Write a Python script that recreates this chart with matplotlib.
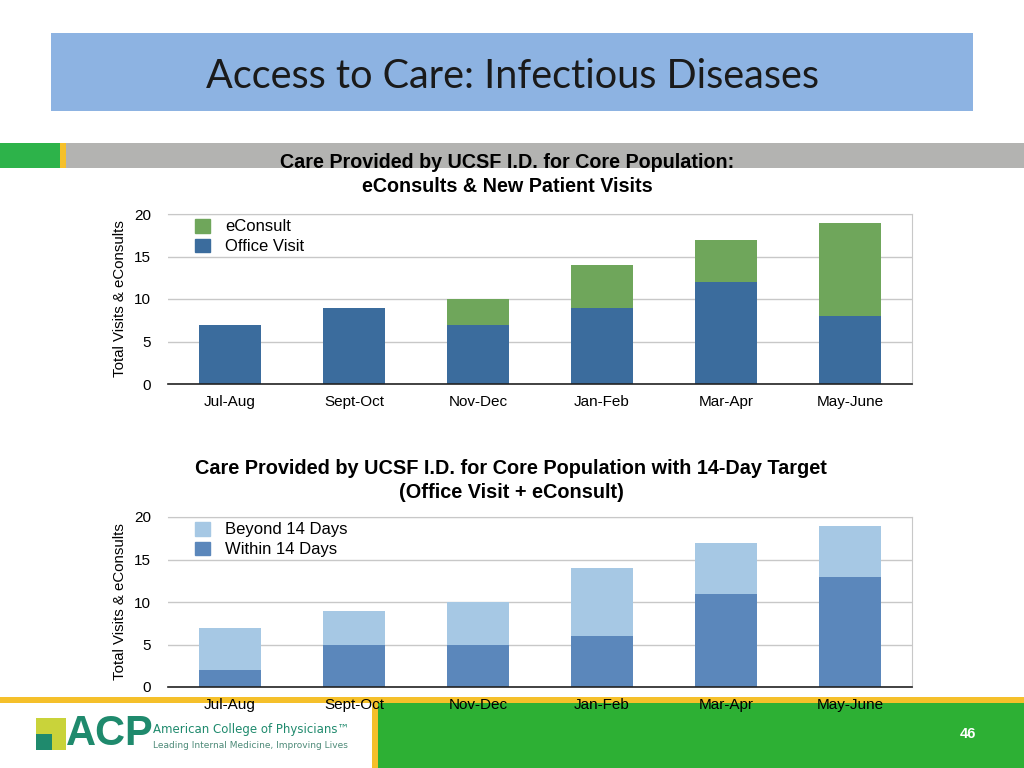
"""Access to Care: Infectious Diseases - stacked bar slide."""
import numpy as np
import matplotlib
matplotlib.use("Agg")
from matplotlib import pyplot as plt
from matplotlib.patches import Rectangle, Patch

# data
periods = ["Jul-Aug", "Sept-Oct", "Nov-Dec", "Jan-Feb", "Mar-Apr", "May-June"]
office_visit = [7, 9, 7, 9, 12, 8]
econsult = [0, 0, 3, 5, 5, 11]
within_14 = [2, 5, 5, 6, 11, 13]
beyond_14 = [5, 4, 5, 8, 6, 6]

W, H = 1024, 768


def px(x, y, w, h):
    """Pixel box (top-left origin) to figure fraction."""
    return [x / W, 1 - (y + h) / H, w / W, h / H]


def add_rect(fig, x, y, w, h, color, z=-5):
    r = Rectangle((x / W, 1 - (y + h) / H), w / W, h / H, transform=fig.transFigure,
                  facecolor=color, edgecolor="none", zorder=z)
    fig.patches.append(r)


def style_axes(ax):
    ax.set_xlim(-0.5, 5.5)
    ax.set_ylim(0, 20)
    ax.set_yticks([0, 5, 10, 15, 20])
    ax.set_xticks(np.arange(len(periods)))
    ax.set_xticklabels(periods)
    ax.tick_params(length=0, labelsize=11, pad=8)
    ax.tick_params(axis="y", pad=12)
    for lab in ax.get_xticklabels() + ax.get_yticklabels():
        lab.set_fontfamily("Liberation Sans")
    ax.grid(axis="y", color="#c8c8c8", linewidth=1)
    ax.set_axisbelow(True)
    ax.spines["left"].set_visible(False)
    ax.spines["top"].set_color("#c8c8c8")
    ax.spines["right"].set_color("#c8c8c8")
    ax.spines["bottom"].set_color("#222222")
    ax.spines["bottom"].set_linewidth(1.2)
    ax.set_ylabel("Total Visits & eConsults", fontsize=10.8, family="Liberation Sans",
                  labelpad=5)
    ax.set_facecolor("none")


def add_legend(ax, items):
    ax.legend(handles=[Patch(color=c, label=l) for l, c in items],
              loc="upper left", bbox_to_anchor=(0.016, 1.06), frameon=False,
              prop={"family": "Liberation Sans", "size": 12}, handlelength=0.9,
              handleheight=0.9, handletextpad=0.9, labelspacing=0.25)


fig = plt.figure(figsize=(W / 100, H / 100), dpi=100)

# slide decorations
add_rect(fig, 51, 33, 922, 78, "#8db3e2")
add_rect(fig, 0, 143, 60, 25, "#2db34a")
add_rect(fig, 60, 143, 6, 25, "#f5c02a")
add_rect(fig, 66, 143, 958, 25, "#b3b3b1")
add_rect(fig, 0, 697, 1024, 6, "#f5c02a")
add_rect(fig, 372, 697, 6, 71, "#f5c02a")
add_rect(fig, 378, 703, 646, 65, "#2db034")

fig.text(512 / W, 1 - 76 / H, "Access to Care: Infectious Diseases", ha="center", va="center",
         fontsize=28.5, family="Lato", color="#1a1a1a")

x = np.arange(len(periods))

# chart 1
ax1 = fig.add_axes(px(168, 214, 744, 170))
ax1.bar(x, office_visit, width=0.5, color="#3b6c9d")
ax1.bar(x, econsult, width=0.5, bottom=office_visit, color="#6fa65b")
style_axes(ax1)
add_legend(ax1, [("eConsult", "#6fa65b"), ("Office Visit", "#3b6c9d")])
fig.text(507 / W, 1 - 163 / H, "Care Provided by UCSF I.D. for Core Population:",
         ha="center", va="center", fontsize=14.2, fontweight="bold", family="Liberation Sans")
fig.text(507 / W, 1 - 187 / H, "eConsults & New Patient Visits",
         ha="center", va="center", fontsize=14.2, fontweight="bold", family="Liberation Sans")

# chart 2
ax2 = fig.add_axes(px(168, 517, 744, 170))
ax2.bar(x, within_14, width=0.5, color="#5b87bb")
ax2.bar(x, beyond_14, width=0.5, bottom=within_14, color="#a6c8e4")
style_axes(ax2)
add_legend(ax2, [("Beyond 14 Days", "#a6c8e4"), ("Within 14 Days", "#5b87bb")])
fig.text(511 / W, 1 - 469 / H, "Care Provided by UCSF I.D. for Core Population with 14-Day Target",
         ha="center", va="center", fontsize=14.3, fontweight="bold", family="Liberation Sans")
fig.text(511 / W, 1 - 493 / H, "(Office Visit + eConsult)",
         ha="center", va="center", fontsize=14.3, fontweight="bold", family="Liberation Sans")

# footer logo
add_rect(fig, 36, 718, 30, 32, "#c9d33a", z=-4)
add_rect(fig, 36, 734, 16, 16, "#1f8a6d", z=-3)
fig.text(66 / W, 1 - 734 / H, "ACP", ha="left", va="center", fontsize=30,
         fontweight="bold", family="Liberation Sans", color="#1f8a6d")
fig.text(153 / W, 1 - 730 / H, "American College of Physicians\u2122", ha="left",
         va="center", fontsize=8.5, family="Liberation Sans Narrow", color="#1f8a6d")
fig.text(153 / W, 1 - 745 / H, "Leading Internal Medicine, Improving Lives", ha="left",
         va="center", fontsize=6.5, family="Liberation Sans Narrow", color="#4d8a78")
fig.text(968 / W, 1 - 734 / H, "46", ha="center", va="center", fontsize=10.5,
         fontweight="bold", family="Liberation Sans", color="white")

fig.savefig("out.png", dpi=100)
